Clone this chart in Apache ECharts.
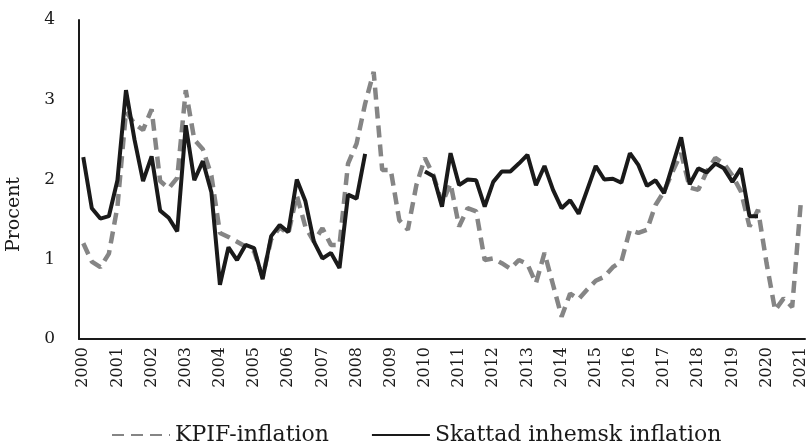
<!DOCTYPE html>
<html>
<head>
<meta charset="utf-8">
<script src="https://cdn.jsdelivr.net/npm/echarts@6/dist/echarts.min.js"></script>
<style>
  html, body { margin: 0; padding: 0; background: #fff; }
  #chart { width: 811px; height: 448px; }
</style>
</head>
<body>
<div id="chart"></div>
<script>
// Years shown on the x axis (quarterly data, 2000 Q1 to 2021 Q1)
const years = ['2000','2001','2002','2003','2004','2005','2006','2007','2008','2009','2010',
               '2011','2012','2013','2014','2015','2016','2017','2018','2019','2020','2021'];
const quarters = ['Q1','Q2','Q3','Q4'];

// KPIF-inflation, quarterly, percent
const kpif = [
  1.20, 0.97, 0.90, 1.07,
  1.66, 2.85, 2.70, 2.62,
  2.88, 1.98, 1.89, 2.02,
  3.12, 2.50, 2.38, 2.05,
  1.33, 1.28, 1.22, 1.16,
  1.10, 0.78, 1.25, 1.40,
  1.32, 1.80, 1.41, 1.22,
  1.39, 1.18, 1.18, 2.20,
  2.45, 2.95, 3.35, 2.12,
  2.12, 1.49, 1.37, 1.93,
  2.27, 2.05, 1.70, 1.95,
  1.41, 1.64, 1.60, 0.99,
  1.01, 0.95, 0.88, 0.99,
  0.94, 0.70, 1.08, 0.68,
  0.28, 0.57, 0.50, 0.62,
  0.73, 0.78, 0.90, 0.97,
  1.37, 1.33, 1.37, 1.68,
  1.85, 2.10, 2.33, 1.90,
  1.87, 2.10, 2.27, 2.20,
  2.05, 1.85, 1.41, 1.62,
  0.95, 0.36, 0.51, 0.40,
  1.70
];

// Skattad inhemsk inflation, quarterly, percent (gap 2008 Q3 - 2009 Q4)
const inhemsk = [
  2.28, 1.64, 1.51, 1.54,
  1.99, 3.12, 2.50, 1.98,
  2.29, 1.61, 1.52, 1.35,
  2.68, 1.99, 2.23, 1.84,
  0.68, 1.15, 0.99, 1.18,
  1.14, 0.75, 1.29, 1.43,
  1.34, 2.00, 1.73, 1.22,
  1.01, 1.08, 0.89, 1.81,
  1.76, 2.32, null, null,
  null, null, null, null,
  2.10, 2.04, 1.66, 2.33,
  1.93, 2.00, 1.99, 1.66,
  1.97, 2.10, 2.10, 2.20,
  2.31, 1.93, 2.17, 1.87,
  1.64, 1.74, 1.57, 1.87,
  2.17, 2.00, 2.01, 1.96,
  2.33, 2.18, 1.92, 1.99,
  1.83, 2.18, 2.53, 1.94,
  2.14, 2.09, 2.20, 2.14,
  1.97, 2.14, 1.54, 1.54
];

const seriesNames = ['KPIF-inflation', 'Skattad inhemsk inflation'];
const yTicks = [0, 1, 2, 3, 4];
const yTitle = 'Procent';

const categories = [];
years.forEach(function (y) {
  quarters.forEach(function (q) {
    if (categories.length < kpif.length) categories.push(y + ' ' + q);
  });
});

const chart = echarts.init(document.getElementById('chart'), null, { renderer: 'canvas' });
const serif = 'DejaVu Serif';

chart.setOption({
  animation: false,
  backgroundColor: '#ffffff',
  textStyle: { fontFamily: serif },
  grid: { left: 79, right: 6, top: 20, bottom: 109, containLabel: false },
  graphic: [{
    type: 'text',
    left: 5,
    top: 177,
    rotation: Math.PI / 2,
    style: { text: yTitle, font: '19px "DejaVu Serif"', fill: '#1a1a1a' },
    origin: [0, 0]
  }],
  legend: {
    top: 419,
    left: 106,
    itemWidth: 58,
    itemHeight: 14,
    itemGap: 42,
    itemStyle: { opacity: 0 },
    textStyle: { fontFamily: serif, fontSize: 22, color: '#1a1a1a' },
    data: seriesNames
  },
  xAxis: {
    type: 'category',
    data: categories,
    boundaryGap: true,
    axisLine: { lineStyle: { color: '#1a1a1a', width: 2 } },
    axisTick: { show: false },
    axisLabel: {
      interval: 3,
      rotate: 90,
      margin: 8,
      fontFamily: serif,
      fontSize: 16,
      color: '#1a1a1a',
      formatter: function (v) { return v.split(' ')[0]; }
    },
    splitLine: { show: false }
  },
  yAxis: {
    type: 'value',
    min: yTicks[0],
    max: yTicks[yTicks.length - 1],
    interval: 1,
    axisLine: { show: true, lineStyle: { color: '#1a1a1a', width: 2 } },
    axisTick: { show: false },
    axisLabel: { margin: 24, fontFamily: serif, fontSize: 17, color: '#1a1a1a' },
    splitLine: { show: false }
  },
  series: [
    {
      name: seriesNames[0],
      type: 'line',
      data: kpif,
      showSymbol: false,
      symbol: 'none',
      color: '#858585',
      lineStyle: { color: '#858585', width: 4.5, type: [12, 7] },
      z: 2
    },
    {
      name: seriesNames[1],
      type: 'line',
      data: inhemsk,
      showSymbol: false,
      symbol: 'none',
      connectNulls: false,
      color: '#1a1a1a',
      lineStyle: { color: '#1a1a1a', width: 4 },
      z: 3
    }
  ]
});
</script>
</body>
</html>
